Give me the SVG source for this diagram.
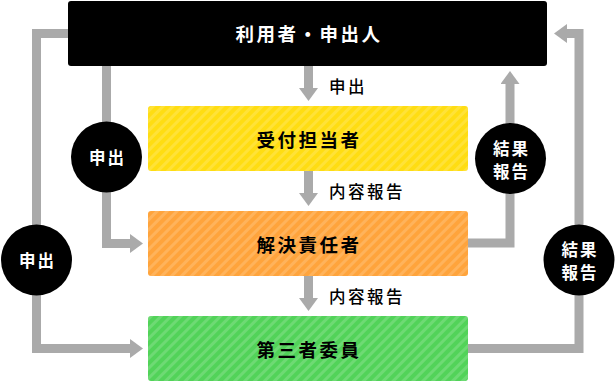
<svg xmlns="http://www.w3.org/2000/svg" width="615" height="382" viewBox="0 0 615 382">
<defs>
<pattern id="stripe" patternUnits="userSpaceOnUse" width="7" height="7" patternTransform="rotate(45)">
<rect x="0" y="0" width="3" height="7" fill="#ffffff" fill-opacity="0.16"/>
</pattern>
<marker id="arr" markerUnits="userSpaceOnUse" markerWidth="14" markerHeight="20" refX="0" refY="9.5" orient="auto">
<path d="M0,0 L13,9.5 L0,19 Z" fill="#aaaaaa"/>
</marker>
<style>
.ln{fill:none;stroke:#aaaaaa;stroke-width:9;marker-end:url(#arr)}
.bx{font-family:"Noto Sans CJK JP","Noto Sans",sans-serif;font-weight:700;font-size:18.5px;letter-spacing:2.5px;text-anchor:middle;dominant-baseline:central}
.lb{font-family:"Noto Sans CJK JP","Noto Sans",sans-serif;font-weight:500;font-size:16.5px;letter-spacing:2.5px;fill:#000;dominant-baseline:central}
.ct{font-family:"Noto Sans CJK JP","Noto Sans",sans-serif;font-weight:700;font-size:16.5px;letter-spacing:2px;fill:#fff;text-anchor:middle;dominant-baseline:central}
</style>
</defs>
<g id="connectors">
<path class="ln" d="M308.5,66 V88"/>
<path class="ln" d="M308.5,171 V193"/>
<path class="ln" d="M308.5,276 V298"/>
<path class="ln" d="M68,33.5 H36.5 V348.5 H130"/>
<path class="ln" d="M106.5,66 V243.5 H130"/>
<path class="ln" d="M468,243 H510 V84"/>
<path class="ln" d="M468,348.5 H579 V33.5 H567"/>
<text class="lb" x="329" y="86">申出</text>
<text class="lb" x="329" y="191">内容報告</text>
<text class="lb" x="329" y="296">内容報告</text>
</g>
<g id="user">
<rect x="68" y="1" width="479" height="65" rx="3" fill="#000"/>
<text class="bx" x="309" y="33" fill="#fff">利用者・申出人</text>
</g>
<g id="reception">
<rect x="148" y="106" width="320" height="65" rx="3" fill="#ffdd12"/>
<rect x="148" y="106" width="320" height="65" rx="3" fill="url(#stripe)"/>
<text class="bx" x="309" y="139" fill="#000">受付担当者</text>
</g>
<g id="resolver">
<rect x="148" y="211" width="320" height="65" rx="3" fill="#ffa43c"/>
<rect x="148" y="211" width="320" height="65" rx="3" fill="url(#stripe)"/>
<text class="bx" x="309" y="244" fill="#000">解決責任者</text>
</g>
<g id="committee">
<rect x="148" y="316" width="320" height="65" rx="3" fill="#52d359"/>
<rect x="148" y="316" width="320" height="65" rx="3" fill="url(#stripe)"/>
<text class="bx" x="309" y="349" fill="#000">第三者委員</text>
</g>
<g id="c-apply-inner">
<circle cx="106.5" cy="157" r="35.5" fill="#000"/>
<text class="ct" x="107.5" y="157">申出</text>
</g>
<g id="c-apply-outer">
<circle cx="36.5" cy="260" r="35.5" fill="#000"/>
<text class="ct" x="37.5" y="260">申出</text>
</g>
<g id="c-result-inner">
<circle cx="510.5" cy="158.5" r="35.5" fill="#000"/>
<text class="ct"><tspan x="511.5" y="148">結果</tspan><tspan x="511.5" y="170.5">報告</tspan></text>
</g>
<g id="c-result-outer">
<circle cx="579" cy="260" r="35.5" fill="#000"/>
<text class="ct"><tspan x="580" y="249">結果</tspan><tspan x="580" y="271.5">報告</tspan></text>
</g>
</svg>
